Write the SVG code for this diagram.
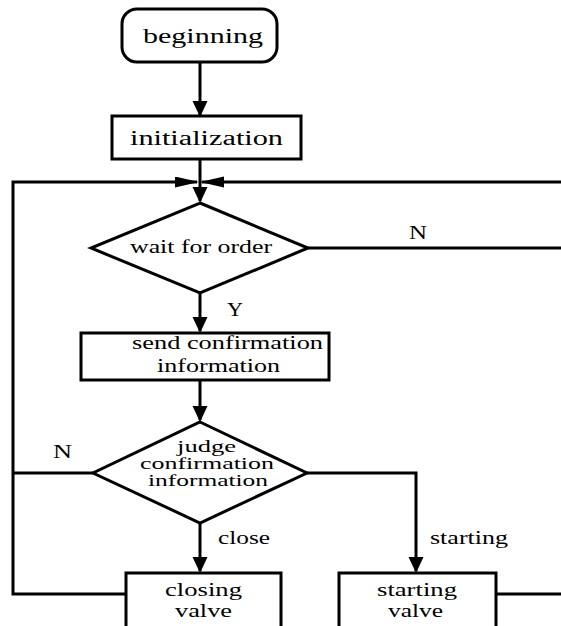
<svg xmlns="http://www.w3.org/2000/svg" width="561" height="626" viewBox="0 0 561 626">
<style>
.box{fill:#fff;stroke:#000;stroke-width:3}
.ln{fill:none;stroke:#000;stroke-width:3}
text{font-family:'Liberation Serif','Times New Roman',serif;fill:#000;font-size:18px}
.big{font-size:20px}
.sm{font-size:16px}
</style>
<defs>
<marker id="ad" markerUnits="userSpaceOnUse" markerWidth="20" markerHeight="20" refX="14" refY="7.5" orient="auto">
<path d="M0,0 L16,7.5 L0,15 Z" fill="#000"/>
</marker>
<marker id="as" markerUnits="userSpaceOnUse" markerWidth="26" markerHeight="14" refX="22" refY="5.5" orient="auto">
<path d="M0,0 L24,5.5 L0,11 Z" fill="#000"/>
</marker>
</defs>
<rect width="561" height="626" fill="#fff"/>
<g id="connectors">
<path class="ln" d="M200,62 V115" marker-end="url(#ad)"/>
<path class="ln" d="M200,159 V201" marker-end="url(#ad)"/>
<path class="ln" d="M126,594 H13 V182 H197" marker-end="url(#as)"/>
<path class="ln" d="M561,182 H202" marker-end="url(#as)"/>
<path class="ln" d="M308,248 H561"/>
<path class="ln" d="M496,594 H561"/>
<path class="ln" d="M93,473 H13"/>
<path class="ln" d="M200,293 V331" marker-end="url(#ad)"/>
<path class="ln" d="M200,380 V420" marker-end="url(#ad)"/>
<path class="ln" d="M200,523 V571" marker-end="url(#ad)"/>
<path class="ln" d="M307,473 H416 V571" marker-end="url(#ad)"/>
<text x="409" y="239" textLength="18" lengthAdjust="spacingAndGlyphs">N</text>
<text x="227" y="316" textLength="16" lengthAdjust="spacingAndGlyphs">Y</text>
<text x="53" y="458" textLength="19" lengthAdjust="spacingAndGlyphs">N</text>
<text x="218" y="544" textLength="52" lengthAdjust="spacingAndGlyphs">close</text>
<text x="430" y="544" textLength="78" lengthAdjust="spacingAndGlyphs">starting</text>
</g>
<g id="beginning">
<rect class="box" x="122" y="9" width="155" height="53" rx="15"/>
<text class="big" x="143" y="43" textLength="120" lengthAdjust="spacingAndGlyphs">beginning</text>
</g>
<g id="initialization">
<rect class="box" x="112" y="116" width="189" height="43"/>
<text class="big" x="130" y="145" textLength="153" lengthAdjust="spacingAndGlyphs">initialization</text>
</g>
<g id="wait">
<polygon class="box" points="200,203 308,248 200,293 91,248"/>
<text x="130" y="253" textLength="142" lengthAdjust="spacingAndGlyphs">wait for order</text>
</g>
<g id="send">
<rect class="box" x="81" y="333" width="248" height="47"/>
<text x="132" y="349" textLength="191" lengthAdjust="spacingAndGlyphs">send confirmation</text>
<text x="157" y="372" textLength="123" lengthAdjust="spacingAndGlyphs">information</text>
</g>
<g id="judge">
<polygon class="box" points="200,422 307,473 200,523 93,473"/>
<text class="sm" x="177" y="452" textLength="59" lengthAdjust="spacingAndGlyphs">judge</text>
<text class="sm" x="140" y="469" textLength="134" lengthAdjust="spacingAndGlyphs">confirmation</text>
<text class="sm" x="148" y="486" textLength="120" lengthAdjust="spacingAndGlyphs">information</text>
</g>
<g id="closing">
<rect class="box" x="126" y="573" width="155" height="80"/>
<text x="165" y="596" textLength="77" lengthAdjust="spacingAndGlyphs">closing</text>
<text x="175" y="617" textLength="57" lengthAdjust="spacingAndGlyphs">valve</text>
</g>
<g id="starting">
<rect class="box" x="339" y="573" width="157" height="80"/>
<text x="377" y="596" textLength="80" lengthAdjust="spacingAndGlyphs">starting</text>
<text x="388" y="617" textLength="55" lengthAdjust="spacingAndGlyphs">valve</text>
</g>
</svg>
